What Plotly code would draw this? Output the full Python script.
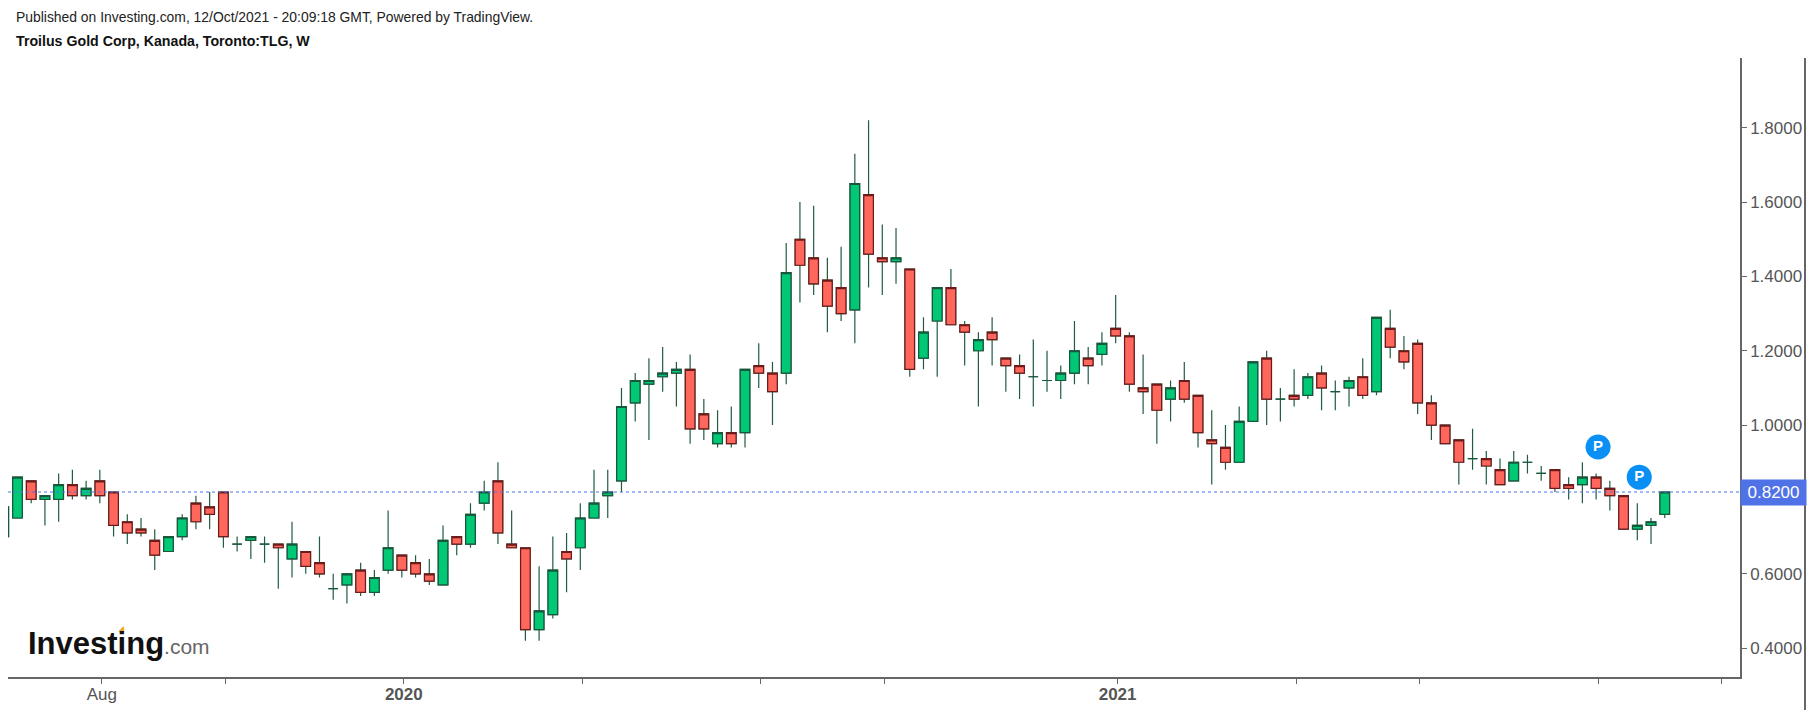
import numpy as np
import pandas as pd
import plotly.graph_objects as go

# Weekly candles, first one is clipped by the left edge
week_dates = pd.date_range("2019-06-17", periods=122, freq="7D")

opens = [
    0.70, 0.75, 0.85, 0.80, 0.80, 0.84, 0.81, 0.85, 0.82, 0.74, 0.72, 0.69, 0.66, 0.70, 0.79, 0.78,
    0.82, 0.68, 0.69, 0.68, 0.68, 0.64, 0.66, 0.63, 0.56, 0.57, 0.61, 0.55, 0.61, 0.65, 0.63, 0.60,
    0.57, 0.70, 0.68, 0.79, 0.85, 0.68, 0.67, 0.45, 0.49, 0.66, 0.67, 0.75, 0.81, 0.85, 1.06, 1.11,
    1.13, 1.14, 1.15, 1.03, 0.95, 0.98, 0.98, 1.16, 1.14, 1.14, 1.50, 1.45, 1.39, 1.37, 1.31, 1.62,
    1.45, 1.44, 1.42, 1.18, 1.28, 1.37, 1.27, 1.20, 1.25, 1.18, 1.16, 1.13, 1.12, 1.12, 1.14, 1.18,
    1.19, 1.26, 1.24, 1.10, 1.11, 1.07, 1.12, 1.08, 0.96, 0.94, 0.90, 1.01, 1.18, 1.07, 1.08, 1.08,
    1.14, 1.09, 1.10, 1.13, 1.09, 1.26, 1.20, 1.22, 1.06, 1.00, 0.96, 0.91, 0.91, 0.88, 0.85, 0.90,
    0.87, 0.88, 0.84, 0.84, 0.86, 0.83, 0.81, 0.72, 0.73, 0.76,
]
highs = [
    0.78, 0.86, 0.85, 0.81, 0.87, 0.88, 0.85, 0.88, 0.82, 0.76, 0.75, 0.72, 0.70, 0.76, 0.81, 0.82,
    0.82, 0.70, 0.70, 0.70, 0.68, 0.74, 0.66, 0.70, 0.60, 0.60, 0.63, 0.61, 0.77, 0.65, 0.65, 0.64,
    0.73, 0.70, 0.79, 0.85, 0.90, 0.77, 0.67, 0.62, 0.70, 0.71, 0.79, 0.88, 0.88, 1.10, 1.14, 1.18,
    1.21, 1.17, 1.19, 1.07, 1.04, 1.05, 1.15, 1.22, 1.17, 1.49, 1.60, 1.59, 1.45, 1.48, 1.73, 1.82,
    1.54, 1.53, 1.42, 1.29, 1.37, 1.42, 1.28, 1.25, 1.29, 1.18, 1.19, 1.23, 1.20, 1.16, 1.28, 1.21,
    1.25, 1.35, 1.25, 1.19, 1.11, 1.12, 1.17, 1.08, 1.04, 1.00, 1.05, 1.17, 1.20, 1.10, 1.15, 1.14,
    1.16, 1.12, 1.13, 1.18, 1.29, 1.31, 1.24, 1.23, 1.08, 1.00, 0.96, 0.99, 0.93, 0.91, 0.93, 0.92,
    0.89, 0.88, 0.86, 0.90, 0.87, 0.85, 0.81, 0.79, 0.75, 0.82,
]
lows = [
    0.70, 0.75, 0.79, 0.73, 0.74, 0.80, 0.80, 0.79, 0.70, 0.68, 0.70, 0.61, 0.66, 0.69, 0.72, 0.72,
    0.67, 0.66, 0.64, 0.63, 0.56, 0.59, 0.60, 0.59, 0.53, 0.52, 0.54, 0.54, 0.60, 0.59, 0.59, 0.57,
    0.57, 0.65, 0.67, 0.77, 0.68, 0.67, 0.42, 0.42, 0.48, 0.55, 0.61, 0.75, 0.75, 0.82, 1.01, 0.96,
    1.09, 1.05, 0.95, 0.96, 0.94, 0.94, 0.94, 1.10, 1.00, 1.11, 1.33, 1.35, 1.25, 1.28, 1.22, 1.37,
    1.35, 1.38, 1.13, 1.15, 1.13, 1.27, 1.16, 1.05, 1.16, 1.09, 1.07, 1.05, 1.09, 1.07, 1.11, 1.11,
    1.16, 1.22, 1.09, 1.03, 0.95, 1.01, 1.06, 0.94, 0.84, 0.88, 0.90, 1.01, 1.00, 1.01, 1.05, 1.07,
    1.04, 1.04, 1.05, 1.07, 1.08, 1.18, 1.15, 1.03, 0.96, 0.95, 0.84, 0.88, 0.84, 0.84, 0.85, 0.87,
    0.85, 0.82, 0.80, 0.79, 0.80, 0.77, 0.72, 0.69, 0.68, 0.75,
]
closes = [
    0.78, 0.86, 0.80, 0.81, 0.84, 0.81, 0.83, 0.81, 0.73, 0.71, 0.71, 0.65, 0.70, 0.75, 0.74, 0.76,
    0.70, 0.68, 0.70, 0.68, 0.67, 0.68, 0.62, 0.60, 0.56, 0.60, 0.55, 0.59, 0.67, 0.61, 0.60, 0.58,
    0.69, 0.68, 0.76, 0.82, 0.71, 0.67, 0.45, 0.50, 0.61, 0.64, 0.75, 0.79, 0.82, 1.05, 1.12, 1.12,
    1.14, 1.15, 0.99, 0.99, 0.98, 0.95, 1.15, 1.14, 1.09, 1.41, 1.43, 1.38, 1.32, 1.30, 1.65, 1.46,
    1.44, 1.45, 1.15, 1.25, 1.37, 1.27, 1.25, 1.23, 1.23, 1.16, 1.14, 1.13, 1.12, 1.14, 1.20, 1.16,
    1.22, 1.24, 1.11, 1.09, 1.04, 1.10, 1.07, 0.98, 0.95, 0.90, 1.01, 1.17, 1.07, 1.07, 1.07, 1.13,
    1.10, 1.09, 1.12, 1.08, 1.29, 1.21, 1.17, 1.06, 1.00, 0.95, 0.90, 0.91, 0.89, 0.84, 0.90, 0.90,
    0.87, 0.83, 0.83, 0.86, 0.83, 0.81, 0.72, 0.73, 0.74, 0.82,
]

last_price = 0.82
y_ticks = [0.4, 0.6, 0.8, 1.0, 1.2, 1.4, 1.6, 1.8]
x_ticks = ["2019-08-06", "2019-10-08", "2020-01-07", "2020-04-07", "2020-07-07", "2020-09-08",
           "2021-01-05", "2021-04-06", "2021-06-08", "2021-09-07", "2021-11-09"]
x_tick_labels = ["Aug", "", "<b>2020</b>", "", "", "", "<b>2021</b>", "", "", "", ""]
pivot_dates = ["2021-09-07", "2021-09-28"]
pivot_prices = [0.941, 0.860]

GREEN = "#00c875"
GREEN_EDGE = "#17573c"
RED = "#ff665c"
RED_EDGE = "#6e1a1a"
WICK = "#205c42"
AXIS = "#666666"
TEXT = "#555555"
FONT = "Liberation Sans"

df = pd.DataFrame({"date": week_dates, "o": opens, "h": highs, "l": lows, "c": closes})
df["top"] = np.maximum(df["o"], df["c"])
df["bottom"] = np.minimum(df["o"], df["c"])
up = df[df["c"] >= df["o"]]
down = df[df["c"] < df["o"]]

fig = go.Figure()

# Wicks are dark green on every candle, so they get their own trace under the bodies
fig.add_trace(go.Candlestick(
    x=df["date"], open=df["o"], high=df["h"], low=df["l"], close=df["c"],
    increasing=dict(line=dict(color=WICK, width=1.2), fillcolor="rgba(0,0,0,0)"),
    decreasing=dict(line=dict(color=WICK, width=1.2), fillcolor="rgba(0,0,0,0)"),
    whiskerwidth=0, hoverinfo="skip",
))
for part, fill, edge in [(up, GREEN, GREEN_EDGE), (down, RED, RED_EDGE)]:
    fig.add_trace(go.Candlestick(
        x=part["date"], open=part["bottom"], high=part["top"], low=part["bottom"], close=part["top"],
        increasing=dict(line=dict(color=edge, width=1.2), fillcolor=fill),
        decreasing=dict(line=dict(color=edge, width=1.2), fillcolor=fill),
    ))

fig.add_trace(go.Scatter(
    x=pivot_dates, y=pivot_prices, mode="markers+text", text=["<b>P</b>", "<b>P</b>"],
    textposition="middle center", textfont=dict(color="white", size=15, family=FONT),
    marker=dict(size=25, color="#0a90f5"), hoverinfo="skip",
))

fig.update_layout(
    width=1813, height=710, showlegend=False,
    paper_bgcolor="white", plot_bgcolor="white",
    margin=dict(l=8, r=73, t=58, b=33),
    font=dict(family=FONT, size=17, color=TEXT),
    boxgap=0.3, boxgroupgap=0,
    xaxis=dict(
        type="date", range=["2019-06-19 04:00", "2021-11-18 09:00"], automargin=False,
        rangeslider=dict(visible=False), showgrid=False, zeroline=False,
        showline=True, linecolor=AXIS, linewidth=1.5,
        ticks="outside", ticklen=5, tickcolor=AXIS, tickwidth=1,
        tickmode="array", tickvals=x_ticks, ticktext=x_tick_labels, ticklabelstandoff=-4,
    ),
    yaxis=dict(
        side="right", range=[0.3223, 1.9876], automargin=False, showgrid=False, zeroline=False,
        showline=True, linecolor=AXIS, linewidth=1.5,
        ticks="outside", ticklen=5, tickcolor=AXIS, tickwidth=1,
        tickmode="array", tickvals=y_ticks, tickformat=".4f",
    ),
    shapes=[
        dict(type="line", xref="paper", yref="y", x0=0, x1=1, y0=last_price, y1=last_price,
             line=dict(color="#4a72e8", width=1, dash="dot")),
        dict(type="line", xref="paper", yref="paper", x0=1.03753, x1=1.03753, y0=-0.0533, y1=1,
             line=dict(color="black", width=1.2)),
        # orange spark on the logo's i
        dict(type="path", xref="paper", yref="paper",
             path="M 0.0638 0.0740 L 0.0668 0.0824 L 0.0672 0.0740 L 0.0650 0.0720 Z",
             fillcolor="#f5a623", line=dict(width=0)),
    ],
    annotations=[
        dict(text="Published on Investing.com, 12/Oct/2021 - 20:09:18 GMT, Powered by TradingView.",
             xref="paper", yref="paper", x=0.0032, y=1.0, yanchor="middle", xanchor="left",
             yshift=41, showarrow=False, font=dict(size=13.9, color="#222222")),
        dict(text="<b>Troilus Gold Corp, Kanada, Toronto:TLG, W</b>",
             xref="paper", yref="paper", x=0.0032, y=1.0, yanchor="middle", xanchor="left",
             yshift=17, showarrow=False, font=dict(size=14.2, color="#111111")),
        dict(text=f"{last_price:.4f}", xref="paper", yref="y", x=1, y=last_price,
             xanchor="left", yanchor="middle", width=63, height=23, align="center",
             showarrow=False, bgcolor="#4f72e6", font=dict(size=17, color="white")),
        dict(text="<b>Investing</b><span style='font-size:21px;color:#666666'>.com</span>",
             xref="paper", yref="paper", x=0.0102, y=0.054, xanchor="left", yanchor="middle",
             showarrow=False, font=dict(size=31, color="#111111")),
    ],
)

fig.write_html("out.html", config={"displayModeBar": False},
               post_script="document.body.style.margin='0';document.body.style.overflow='hidden';")
